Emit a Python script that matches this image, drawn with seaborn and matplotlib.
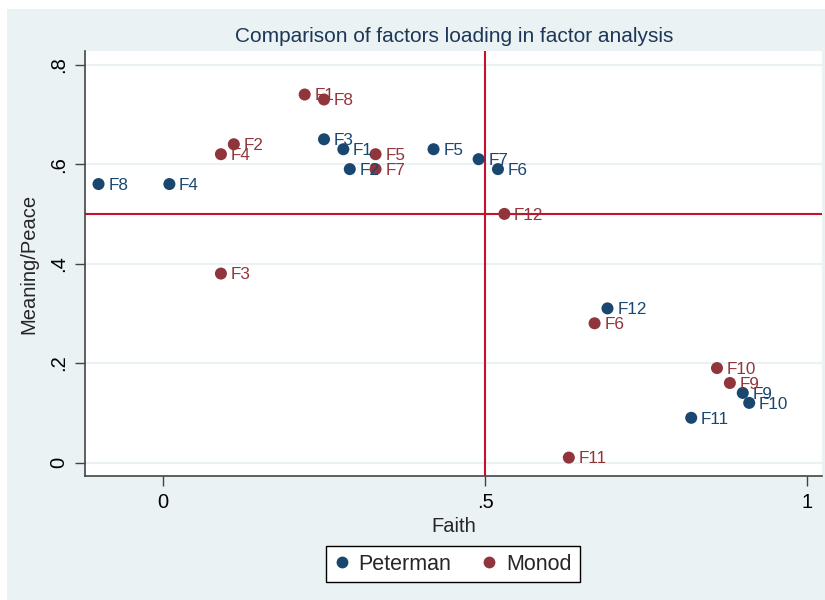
import matplotlib
matplotlib.use("Agg")
import matplotlib.pyplot as plt
from matplotlib.patches import Rectangle
import seaborn as sns
import pandas as pd

# factor loadings
factors = ["F1", "F2", "F3", "F4", "F5", "F6", "F7", "F8", "F9", "F10", "F11", "F12"]
peterman_faith = [0.28, 0.29, 0.25, 0.01, 0.42, 0.52, 0.49, -0.10, 0.90, 0.91, 0.82, 0.69]
peterman_meaning = [0.63, 0.59, 0.65, 0.56, 0.63, 0.59, 0.61, 0.56, 0.14, 0.12, 0.09, 0.31]
monod_faith = [0.22, 0.11, 0.09, 0.09, 0.33, 0.67, 0.33, 0.25, 0.88, 0.86, 0.63, 0.53]
monod_meaning = [0.74, 0.64, 0.38, 0.62, 0.62, 0.28, 0.59, 0.73, 0.16, 0.19, 0.01, 0.50]

df = pd.concat([
    pd.DataFrame({"factor": factors, "Faith": peterman_faith,
                  "Meaning": peterman_meaning, "scale": "Peterman"}),
    pd.DataFrame({"factor": factors, "Faith": monod_faith,
                  "Meaning": monod_meaning, "scale": "Monod"}),
], ignore_index=True)

colors = {"Peterman": "#1a476f", "Monod": "#90353b"}
bg = "#eaf2f3"

sns.set_style("white")
plt.rcParams["font.family"] = ["Liberation Sans", "DejaVu Sans"]

fig = plt.figure(figsize=(8.25, 6), dpi=100)
fig.patches.append(Rectangle((7 / 825, 0), 1, 1 - 9 / 600, transform=fig.transFigure,
                             facecolor=bg, edgecolor="none", zorder=-10))
ax = fig.add_axes([85 / 825, 1 - 476 / 600, (822 - 85) / 825, (476 - 51) / 600])
ax.set_facecolor("white")

ax.set_xlim(-0.121, 1.023)
ax.set_ylim(-0.027, 0.8275)
for yv in [0, 0.2, 0.4, 0.6, 0.8]:
    ax.axhline(yv, color=bg, lw=1.5, zorder=0)

ax.axhline(0.5, color="#c8102e", lw=1.5, zorder=1)
ax.axvline(0.5, color="#c8102e", lw=1.5, zorder=1)

sns.scatterplot(data=df, x="Faith", y="Meaning", hue="scale", palette=colors,
                s=75, edgecolor="none", ax=ax, zorder=3, legend=False)

for _, r in df.iterrows():
    ax.annotate(r["factor"], (r["Faith"], r["Meaning"]), xytext=(7, -1),
                textcoords="offset points", va="center", ha="left",
                fontsize=12.3, color=colors[r["scale"]], zorder=4)

ax.set_xticks([0, 0.5, 1])
ax.set_xticklabels(["0", ".5", "1"])
ax.set_yticks([0, 0.2, 0.4, 0.6, 0.8])
ax.set_yticklabels(["0", ".2", ".4", ".6", ".8"], rotation=90, va="center")
ax.tick_params(axis="both", direction="out", length=7, width=1, color="#444444",
               labelsize=14.5, labelcolor="black", pad=5, left=True, bottom=True)

for side in ["top", "right"]:
    ax.spines[side].set_visible(False)
for side in ["left", "bottom"]:
    ax.spines[side].set_color("#444444")
    ax.spines[side].set_linewidth(1.2)

ax.set_xlabel("Faith", fontsize=14.5, labelpad=4)
ax.set_ylabel("Meaning/Peace", fontsize=14.5, labelpad=8)

fig.text(454 / 825, 1 - 37 / 600, "Comparison of factors loading in factor analysis",
         ha="center", va="center", fontsize=15, color="#1e3657")

handles = [plt.Line2D([], [], marker="o", ls="none", markersize=8.5,
                      markerfacecolor=colors[k], markeredgecolor="none", label=k)
           for k in ["Peterman", "Monod"]]
leg = fig.legend(handles=handles, loc="center", bbox_to_anchor=(453 / 825, 1 - 564 / 600),
                 ncol=2, frameon=True, fancybox=False, framealpha=1,
                 edgecolor="black", fontsize=15.5, handletextpad=0.45,
                 columnspacing=1.4, borderpad=0.35, handlelength=0.7)
leg.get_frame().set_linewidth(1.0)

fig.savefig("out.png", dpi=100, facecolor="white")
